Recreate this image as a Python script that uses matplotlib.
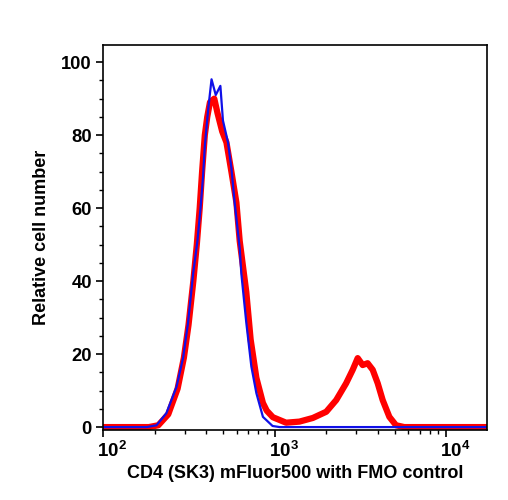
import numpy as np
import matplotlib
matplotlib.use("Agg")
import matplotlib.pyplot as plt
import matplotlib.transforms as mtransforms
from matplotlib.ticker import LogLocator, MultipleLocator, NullFormatter

# -----------------------------
# Data
# -----------------------------
# FMO control (blue)
fmo_x = [80, 180, 205, 234, 268, 293, 313, 335, 355, 370, 382, 392, 410, 429,
         454, 483, 500, 535, 560, 585, 626, 640, 684, 732, 783, 855, 973, 1070, 20000]
fmo_y = [0, 0, 0.5, 3.8, 11, 19, 28.6, 42, 51, 60, 68, 77, 87, 95.3,
         91, 93.5, 84, 78, 71, 61.5, 49, 42, 28.6, 16.6, 9.3, 2.8, 0.3, 0, 0]

# CD4 stained (red)
cd4_x = [80, 185, 210, 240, 272, 296, 315, 336, 352, 366, 378, 392, 405, 420,
         445, 465, 495, 524, 560, 599, 626, 684, 725, 783, 855, 900, 977, 1025,
         1167, 1396, 1671, 2000, 2286, 2612, 2853, 3050, 3260, 3485, 3730, 3990,
         4265, 4665, 5100, 5700, 20000]
cd4_y = [0, 0, 0.5, 3.5, 10.5, 19, 28, 40, 50, 60, 70, 80, 85, 89,
         90, 86, 81, 78, 70, 61.5, 51, 37, 24, 13.5, 6.6, 4.5, 2.7, 2.3,
         1.2, 1.5, 2.5, 4.2, 7.4, 12, 15.7, 18.9, 17, 17.5, 15.7, 12,
         7.4, 2.8, 0.5, 0, 0]

x_ticks = [100, 1000, 10000]
x_tick_labels = [r"$\mathbf{10^{2}}$", r"$\mathbf{10^{3}}$", r"$\mathbf{10^{4}}$"]
y_ticks = [0, 20, 40, 60, 80, 100]

# -----------------------------
# Plot
# -----------------------------
plt.rcParams["font.family"] = ["Liberation Sans", "DejaVu Sans"]
plt.rcParams["font.weight"] = "bold"
plt.rcParams["mathtext.fontset"] = "custom"
plt.rcParams["mathtext.rm"] = "Liberation Sans:bold"
plt.rcParams["mathtext.bf"] = "Liberation Sans:bold"

fig = plt.figure(figsize=(5.08, 5.0), dpi=100)
ax = fig.add_axes([0.2028, 0.14, 0.7559, 0.77])

ax.plot(cd4_x, cd4_y, color="#ff0000", lw=4.5, solid_joinstyle="round")
ax.plot(fmo_x, fmo_y, color="#1010e8", lw=1.6)

ax.set_xscale("log")
ax.set_xlim(100, 17300)
ax.set_ylim(-0.8, 104.7)

ax.set_xticks(x_ticks)
ax.set_xticklabels(x_tick_labels, fontsize=13.5)
ax.xaxis.set_minor_locator(LogLocator(base=10, subs=np.arange(2, 10)))
ax.xaxis.set_minor_formatter(NullFormatter())

ax.set_yticks(y_ticks)
ax.set_yticklabels([str(v) for v in y_ticks], fontsize=13.2, fontweight="bold")
ax.yaxis.set_minor_locator(MultipleLocator(5))

ax.tick_params(which="major", direction="out", length=5, width=1.2, pad=3)
ax.tick_params(which="minor", direction="out", length=2.8, width=1.0)
for sp in ax.spines.values():
    sp.set_linewidth(1.2)

# shift the x tick labels a bit to the right like the original
offset = mtransforms.ScaledTranslation(0.09, 0, fig.dpi_scale_trans)
for lbl in ax.get_xticklabels():
    lbl.set_transform(lbl.get_transform() + offset)

ax.set_xlabel("CD4 (SK3) mFluor500 with FMO control", fontsize=13, fontweight="bold", labelpad=3)
ax.set_ylabel("Relative cell number", fontsize=13, fontweight="bold", labelpad=8)

fig.savefig("out.png", dpi=100)
